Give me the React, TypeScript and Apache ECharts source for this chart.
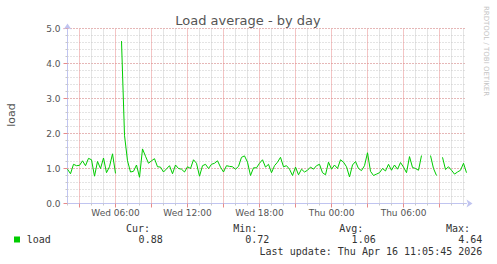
import React, { useEffect, useRef } from "react";
import * as echarts from "echarts";

// ---- data ----
const dayNames = ["Wed", "Thu"];
const startMinutes = 120; // Wed 02:00
const slotMinutes = 15;
const slotCount = 134;

const tickLabels = ["Wed 06:00", "Wed 12:00", "Wed 18:00", "Thu 00:00", "Thu 06:00"];

const loadValues: (number | null)[] = [
  0.98, 0.85, 1.12, 1.08, 1.09, 1.22, 1.08, 1.29, 1.25, 0.78,
  1.2, 1.0, 1.3, 0.88, 1.05, 1.42, 0.86, null, 4.64, 1.95,
  1.22, 0.9, 0.92, 1.1, 0.75, 1.56, 1.35, 1.15, 1.22, 1.28,
  1.05, 1.04, 0.9, 0.99, 1.08, 0.85, 1.1, 1.0, 0.98, 0.9,
  1.05, 1.0, 1.25, 1.15, 0.78, 1.08, 1.12, 1.0, 1.12, 1.15,
  1.22, 1.04, 0.9, 1.08, 1.06, 1.05, 0.98, 1.06, 1.32, 1.36,
  1.18, 0.8, 1.02, 1.02, 1.15, 1.25, 1.04, 1.12, 0.88, 1.08,
  1.18, 1.32, 1.05, 1.08, 0.98, 0.8, 1.04, 0.82, 0.98, 0.9,
  0.95, 1.04, 0.98, 1.08, 1.12, 0.88, 0.82, 1.18, 0.98, 1.1,
  1.0, 1.25, 1.18, 1.05, 0.76, 1.1, 1.2, 1.0, 0.94, 1.08,
  1.45, 0.92, 0.8, 0.84, 0.88, 1.0, 0.93, 1.12, 0.95, 1.1,
  0.98, 1.17, 1.04, 0.88, 1.34, 1.03, 1.0, 0.95, 1.37, null,
  null, 1.37, 1.0, 0.8, null, 1.32, 0.97, 1.05, 0.95, 0.84,
  0.9, 0.95, 1.15, 0.88,
];

const statLabels = ["Cur:", "Min:", "Avg:", "Max:"];
const statValues = ["0.88", "0.72", "1.06", "4.64"];
const seriesName = "load";
const titleText = "Load average - by day";
const lastUpdate = "Last update: Thu Apr 16 11:05:45 2026";
const watermark = "RRDTOOL / TOBI OETIKER";

const pad = (n: number) => (n < 10 ? "0" + n : "" + n);
const categories: string[] = [];
for (let i = 0; i < slotCount; i++) {
  const m = startMinutes + i * slotMinutes;
  const d = Math.floor(m / 1440);
  const h = Math.floor((m % 1440) / 60);
  categories.push(`${dayNames[d]} ${pad(h)}:${pad(m % 60)}`);
}
const hourOf = (v: string) => parseInt(v.slice(4, 6), 10);
const isHour = (v: string) => v.endsWith(":00");

// ---- styles ----
const SANS = '"DejaVu Sans", sans-serif';
const MONO = '"DejaVu Sans Mono", monospace';
const minorColor = "#c8c8c8";
const majorColor = "#e88a8a";
const axisColor = "#c0c4f0";
const lineColor = "#00cc00";

export default function App() {
  const ref = useRef<HTMLDivElement>(null);
  useEffect(() => {
    const chart = echarts.init(ref.current!, null, { renderer: "svg" });
    const statX = [150, 257.3, 363.3, 470];
    const valX = [162.7, 269.3, 375.7, 482.3];
    const graphics: any[] = [
      {
        type: "text",
        x: 248,
        y: 20,
        style: { text: titleText, fill: "#555", font: `13px ${SANS}`, textAlign: "center", textVerticalAlign: "middle" },
      },
      {
        type: "text",
        x: 11,
        y: 115,
        rotation: Math.PI / 2,
        style: { text: "load", fill: "#555", font: `11px ${SANS}`, textAlign: "center", textVerticalAlign: "middle" },
      },
      {
        type: "text",
        x: 486,
        y: 51,
        rotation: -Math.PI / 2,
        style: { text: watermark, fill: "#c4c4c4", font: `7px ${SANS}`, textAlign: "center", textVerticalAlign: "middle" },
      },
      {
        type: "rect",
        shape: { x: 14, y: 236.5, width: 6, height: 6 },
        style: { fill: lineColor },
      },
      {
        type: "text",
        x: 26.7,
        y: 239.5,
        style: { text: seriesName, fill: "#333", font: `10px ${MONO}`, textAlign: "left", textVerticalAlign: "middle" },
      },
      {
        type: "text",
        x: 482.3,
        y: 251.7,
        style: { text: lastUpdate, fill: "#333", font: `10px ${MONO}`, textAlign: "right", textVerticalAlign: "middle" },
      },
    ];
    statLabels.forEach((s, k) => {
      graphics.push({
        type: "text",
        x: statX[k],
        y: 228.3,
        style: { text: s, fill: "#333", font: `10px ${MONO}`, textAlign: "right", textVerticalAlign: "middle" },
      });
      graphics.push({
        type: "text",
        x: valX[k],
        y: 239.5,
        style: { text: statValues[k], fill: "#333", font: `10px ${MONO}`, textAlign: "right", textVerticalAlign: "middle" },
      });
    });

    const minorH = { color: minorColor, type: [1, 2], width: 1 };
    const majorH = { color: majorColor, type: [1, 2], width: 1 };
    const minorV = { color: minorColor, type: [1, 1], width: 1, dashOffset: 0.5 };
    const majorV = { color: majorColor, type: [1, 1], width: 1, dashOffset: 0.5 };

    chart.setOption({
      animation: false,
      backgroundColor: "#ffffff",
      grid: { left: 67.5, top: 28.5, width: 399, height: 175, containLabel: false },
      xAxis: [
        {
          type: "category",
          data: categories,
          boundaryGap: false,
          axisLine: {
            show: true,
            lineStyle: { color: axisColor, width: 1 },
            symbol: ["none", "arrow"],
            symbolSize: [6, 6],
            symbolOffset: [0, 6],
          },
          axisTick: {
            show: true,
            length: 2,
            interval: (_i: number, v: string) => isHour(v),
            lineStyle: { color: "#c8c8c8" },
          },
          axisLabel: {
            show: true,
            interval: (_i: number, v: string) => tickLabels.includes(v),
            color: "#555",
            fontFamily: SANS,
            fontSize: 9,
            margin: 5,
          },
          splitLine: {
            show: true,
            interval: (_i: number, v: string) => isHour(v) && hourOf(v) % 3 !== 0,
            lineStyle: minorV,
          },
        },
        {
          type: "category",
          data: categories,
          boundaryGap: false,
          position: "bottom",
          axisLine: { show: false },
          axisTick: {
            show: true,
            length: 4,
            interval: (_i: number, v: string) => isHour(v) && hourOf(v) % 3 === 0,
            lineStyle: { color: majorColor },
          },
          axisLabel: { show: false },
          splitLine: {
            show: true,
            interval: (_i: number, v: string) => isHour(v) && hourOf(v) % 3 === 0,
            lineStyle: majorV,
          },
        },
      ],
      yAxis: [
        {
          type: "value",
          min: 0,
          max: 5,
          interval: 0.2,
          axisLine: {
            show: true,
            lineStyle: { color: axisColor, width: 1 },
            symbol: ["none", "arrow"],
            symbolSize: [6, 6],
            symbolOffset: [0, 5],
          },
          axisTick: { show: true, length: 2, lineStyle: { color: "#c8c8c8" } },
          axisLabel: { show: false },
          splitLine: { show: true, lineStyle: minorH },
        },
        {
          type: "value",
          min: 0,
          max: 5,
          interval: 1,
          position: "left",
          axisLine: { show: false },
          axisTick: { show: true, length: 4, lineStyle: { color: majorColor } },
          axisLabel: {
            show: true,
            formatter: (v: number) => v.toFixed(1),
            color: "#555",
            fontFamily: SANS,
            fontSize: 9,
            margin: 7,
          },
          splitLine: { show: true, lineStyle: majorH },
        },
      ],
      series: [
        {
          name: seriesName,
          type: "line",
          xAxisIndex: 0,
          yAxisIndex: 0,
          data: loadValues,
          showSymbol: false,
          connectNulls: false,
          lineStyle: { color: lineColor, width: 1 },
          itemStyle: { color: lineColor },
          z: 5,
        },
      ],
      graphic: graphics,
    });
    return () => chart.dispose();
  }, []);
  return (
    <div
      ref={ref}
      style={{ position: "fixed", left: 0, top: 0, width: 497, height: 264, background: "#fff" }}
    />
  );
}
